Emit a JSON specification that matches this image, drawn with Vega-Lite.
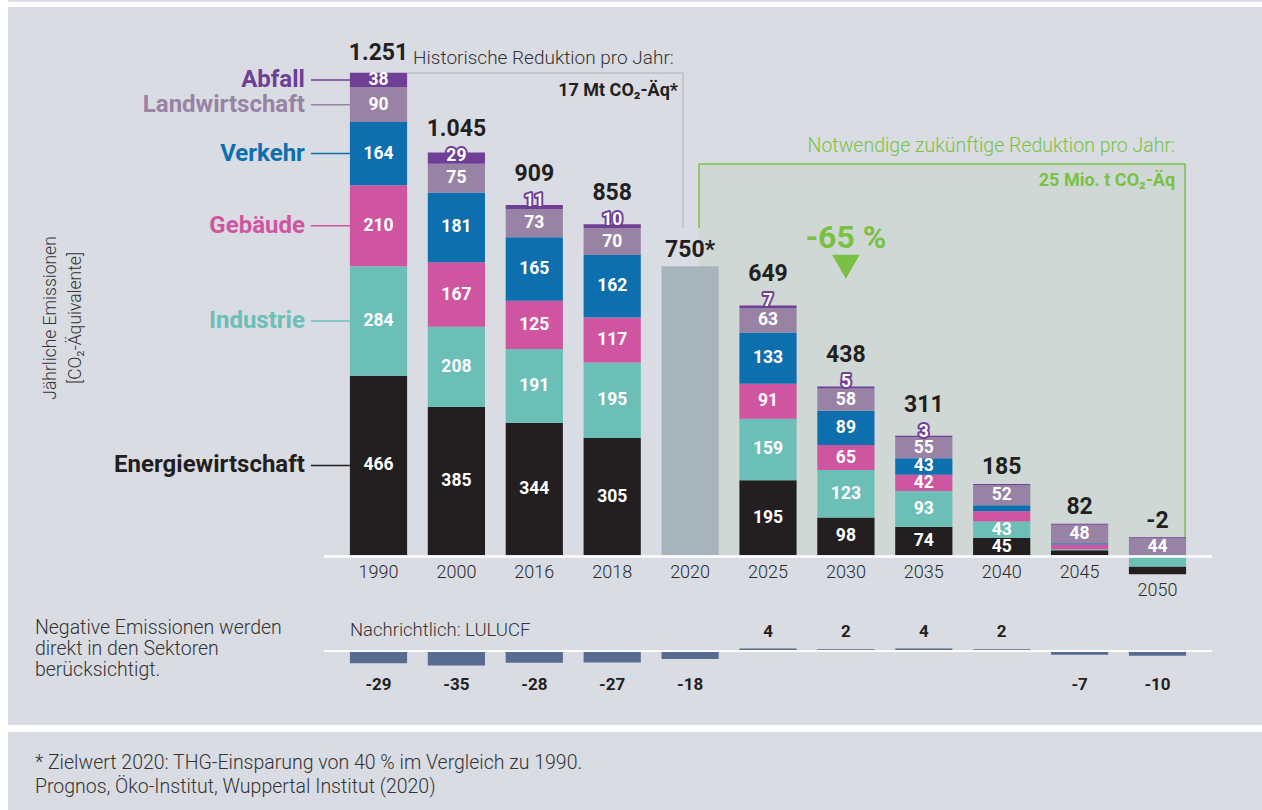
{
 "$schema": "https://vega.github.io/schema/vega-lite/v6.json",
 "width": 1254, "height": 810, "autosize": "none",
 "padding": {"left": 8, "top": 0, "right": 0, "bottom": 0},
 "background": "#ffffff",
 "config": {"view": {"fill": "#d9dce3", "stroke": null}, "font": "Roboto"},
 "datasets": {
  "emissions": [
   {"year": 1990, "sector": "Energiewirtschaft", "value": 466}, {"year": 1990, "sector": "Industrie", "value": 284}, {"year": 1990, "sector": "Gebäude", "value": 210}, {"year": 1990, "sector": "Verkehr", "value": 164}, {"year": 1990, "sector": "Landwirtschaft", "value": 90}, {"year": 1990, "sector": "Abfall", "value": 38},
   {"year": 2000, "sector": "Energiewirtschaft", "value": 385}, {"year": 2000, "sector": "Industrie", "value": 208}, {"year": 2000, "sector": "Gebäude", "value": 167}, {"year": 2000, "sector": "Verkehr", "value": 181}, {"year": 2000, "sector": "Landwirtschaft", "value": 75}, {"year": 2000, "sector": "Abfall", "value": 29},
   {"year": 2016, "sector": "Energiewirtschaft", "value": 344}, {"year": 2016, "sector": "Industrie", "value": 191}, {"year": 2016, "sector": "Gebäude", "value": 125}, {"year": 2016, "sector": "Verkehr", "value": 165}, {"year": 2016, "sector": "Landwirtschaft", "value": 73}, {"year": 2016, "sector": "Abfall", "value": 11},
   {"year": 2018, "sector": "Energiewirtschaft", "value": 305}, {"year": 2018, "sector": "Industrie", "value": 195}, {"year": 2018, "sector": "Gebäude", "value": 117}, {"year": 2018, "sector": "Verkehr", "value": 162}, {"year": 2018, "sector": "Landwirtschaft", "value": 70}, {"year": 2018, "sector": "Abfall", "value": 10},
   {"year": 2020, "sector": "Zielwert", "value": 750},
   {"year": 2025, "sector": "Energiewirtschaft", "value": 195}, {"year": 2025, "sector": "Industrie", "value": 159}, {"year": 2025, "sector": "Gebäude", "value": 91}, {"year": 2025, "sector": "Verkehr", "value": 133}, {"year": 2025, "sector": "Landwirtschaft", "value": 63}, {"year": 2025, "sector": "Abfall", "value": 7},
   {"year": 2030, "sector": "Energiewirtschaft", "value": 98}, {"year": 2030, "sector": "Industrie", "value": 123}, {"year": 2030, "sector": "Gebäude", "value": 65}, {"year": 2030, "sector": "Verkehr", "value": 89}, {"year": 2030, "sector": "Landwirtschaft", "value": 58}, {"year": 2030, "sector": "Abfall", "value": 5},
   {"year": 2035, "sector": "Energiewirtschaft", "value": 74}, {"year": 2035, "sector": "Industrie", "value": 93}, {"year": 2035, "sector": "Gebäude", "value": 42}, {"year": 2035, "sector": "Verkehr", "value": 43}, {"year": 2035, "sector": "Landwirtschaft", "value": 55}, {"year": 2035, "sector": "Abfall", "value": 3},
   {"year": 2040, "sector": "Energiewirtschaft", "value": 45}, {"year": 2040, "sector": "Industrie", "value": 43}, {"year": 2040, "sector": "Gebäude", "value": 26}, {"year": 2040, "sector": "Verkehr", "value": 16}, {"year": 2040, "sector": "Landwirtschaft", "value": 52}, {"year": 2040, "sector": "Abfall", "value": 3},
   {"year": 2045, "sector": "Energiewirtschaft", "value": 13}, {"year": 2045, "sector": "Industrie", "value": 3}, {"year": 2045, "sector": "Gebäude", "value": 12}, {"year": 2045, "sector": "Verkehr", "value": 3}, {"year": 2045, "sector": "Landwirtschaft", "value": 48}, {"year": 2045, "sector": "Abfall", "value": 3},
   {"year": 2050, "sector": "Energiewirtschaft", "value": -20}, {"year": 2050, "sector": "Industrie", "value": -29}, {"year": 2050, "sector": "Landwirtschaft", "value": 44}, {"year": 2050, "sector": "Abfall", "value": 3}
  ],
  "totals": [
   {"year": 1990, "total": 1251}, {"year": 2000, "total": 1045}, {"year": 2016, "total": 909}, {"year": 2018, "total": 858}, {"year": 2020, "total": 750}, {"year": 2025, "total": 649}, {"year": 2030, "total": 438}, {"year": 2035, "total": 311}, {"year": 2040, "total": 185}, {"year": 2045, "total": 82}, {"year": 2050, "total": -2}
  ],
  "lulucf": [
   {"year": 1990, "value": -29}, {"year": 2000, "value": -35}, {"year": 2016, "value": -28}, {"year": 2018, "value": -27}, {"year": 2020, "value": -18}, {"year": 2025, "value": 4}, {"year": 2030, "value": 2}, {"year": 2035, "value": 4}, {"year": 2040, "value": 2}, {"year": 2045, "value": -7}, {"year": 2050, "value": -10}
  ]
 },
 "layer": [
  {"data": {"values": [{}]}, "mark": {"type": "rect", "fill": "#cfd8d5"},
   "encoding": {"x": {"datum": 2020, "type": "ordinal", "bandPosition": 0.656, "scale": {"domain": [1990,2000,2016,2018,2020,2025,2030,2035,2040,2045,2050], "range": [316,1204], "paddingInner": 0.2657, "paddingOuter": 0.3325}, "axis": null},
    "x2": {"datum": 2050, "bandPosition": 1},
    "y": {"datum": 1015, "type": "quantitative", "scale": {"domain": [0,1000], "range": [555.3,169.8], "nice": false, "zero": false}, "axis": null},
    "y2": {"datum": 0}}},
  {"data": {"values": [{}]}, "mark": {"type": "rule", "stroke": "#ffffff", "strokeWidth": 5.3},
   "encoding": {"y": {"datum": 1429.2, "type": "quantitative", "axis": null}}},
  {"data": {"values": [{}]}, "mark": {"type": "rule", "stroke": "#b6c0c9", "strokeWidth": 1.5},
   "encoding": {"x": {"datum": 1990, "type": "ordinal", "bandPosition": 1, "axis": null},
    "x2": {"datum": 2020, "bandPosition": 0.376},
    "y": {"datum": 1251, "type": "quantitative", "axis": null}}},
  {"data": {"values": [{}]}, "mark": {"type": "rule", "stroke": "#b6c0c9", "strokeWidth": 1.5},
   "encoding": {"x": {"datum": 2020, "type": "ordinal", "bandPosition": 0.376, "axis": null},
    "y": {"datum": 1251, "type": "quantitative", "axis": null}, "y2": {"datum": 849}}},
  {"data": {"values": [{}]}, "mark": {"type": "rule", "stroke": "#7ac143", "strokeWidth": 1.5, "x2Offset": -1},
   "encoding": {"x": {"datum": 2020, "type": "ordinal", "bandPosition": 0.656, "axis": null},
    "x2": {"datum": 2050, "bandPosition": 1},
    "y": {"datum": 1015, "type": "quantitative", "axis": null}}},
  {"data": {"values": [{}]}, "mark": {"type": "rule", "stroke": "#7ac143", "strokeWidth": 1.5},
   "encoding": {"x": {"datum": 2020, "type": "ordinal", "bandPosition": 0.656, "axis": null},
    "y": {"datum": 1015, "type": "quantitative", "axis": null}, "y2": {"datum": 849}}},
  {"data": {"values": [{}]}, "mark": {"type": "rule", "stroke": "#7ac143", "strokeWidth": 1.5, "xOffset": -1},
   "encoding": {"x": {"datum": 2050, "type": "ordinal", "bandPosition": 1, "axis": null},
    "y": {"datum": 1015, "type": "quantitative", "axis": null}, "y2": {"datum": 0}}},
  {"data": {"name": "emissions"},
   "transform": [
    {"calculate": "indexof(['Energiewirtschaft','Industrie','Gebäude','Verkehr','Landwirtschaft','Abfall','Zielwert'], datum.sector)", "as": "idx"},
    {"calculate": "datum.value < 0 ? -datum.idx : datum.idx", "as": "ord"},
    {"stack": "value", "groupby": ["year"], "sort": [{"field": "ord", "order": "ascending"}], "as": ["v0", "v1"]},
    {"calculate": "(datum.v0 + datum.v1) / 2", "as": "mid"}
   ],
   "layer": [
    {"mark": {"type": "bar"},
     "encoding": {"x": {"field": "year", "type": "ordinal", "axis": null},
      "y": {"field": "v0", "type": "quantitative", "axis": null},
      "y2": {"field": "v1"},
      "color": {"field": "sector", "type": "nominal", "legend": null, "scale": {"domain": ["Energiewirtschaft","Industrie","Gebäude","Verkehr","Landwirtschaft","Abfall","Zielwert"], "range": ["#231f20","#6cbfb7","#d055a0","#0e6fae","#9883a5","#6e3f94","#a8b4bc"]}}}},
    {"transform": [{"filter": "datum.value > 30 && datum.sector != 'Zielwert'"}],
     "mark": {"type": "text", "color": "#ffffff", "fontWeight": "bold", "fontSize": 17.5, "baseline": "middle"},
     "encoding": {"x": {"field": "year", "type": "ordinal", "axis": null}, "y": {"field": "mid", "type": "quantitative", "axis": null}, "text": {"field": "value", "type": "quantitative"}}},
    {"transform": [{"filter": "datum.year == 1990"}],
     "mark": {"type": "text", "fontWeight": "bold", "fontSize": 24, "baseline": "middle", "align": "right", "dx": -45},
     "encoding": {"x": {"field": "year", "type": "ordinal", "bandPosition": 0, "axis": null}, "y": {"field": "mid", "type": "quantitative", "axis": null}, "text": {"field": "sector"}, "color": {"field": "sector", "type": "nominal", "legend": null}}},
    {"transform": [{"filter": "datum.year == 1990"}],
     "mark": {"type": "rule", "strokeWidth": 1.5, "xOffset": -39},
     "encoding": {"x": {"field": "year", "type": "ordinal", "bandPosition": 0, "axis": null}, "x2": {"field": "year", "bandPosition": 0}, "y": {"field": "mid", "type": "quantitative", "axis": null}, "color": {"field": "sector", "type": "nominal", "legend": null}}},
    {"transform": [{"filter": "datum.sector == 'Abfall' && datum.year >= 2016 && datum.year <= 2035"}],
     "mark": {"type": "text", "fill": "#6e3f94", "stroke": "#6e3f94", "strokeWidth": 4, "strokeJoin": "round", "fontWeight": "bold", "fontSize": 17.5, "baseline": "alphabetic", "dy": 1},
     "encoding": {"x": {"field": "year", "type": "ordinal", "axis": null}, "y": {"field": "v1", "type": "quantitative", "axis": null}, "text": {"field": "value", "type": "quantitative"}}},
    {"transform": [{"filter": "datum.sector == 'Abfall' && datum.year >= 2016 && datum.year <= 2035"}],
     "mark": {"type": "text", "fill": "#ffffff", "fontWeight": "bold", "fontSize": 17.5, "baseline": "alphabetic", "dy": 1},
     "encoding": {"x": {"field": "year", "type": "ordinal", "axis": null}, "y": {"field": "v1", "type": "quantitative", "axis": null}, "text": {"field": "value", "type": "quantitative"}}},
    {"transform": [{"filter": "datum.sector == 'Abfall' && datum.year == 2000"}],
     "mark": {"type": "text", "fill": "#6e3f94", "stroke": "#6e3f94", "strokeWidth": 4, "strokeJoin": "round", "fontWeight": "bold", "fontSize": 17.5, "baseline": "middle", "dy": -2},
     "encoding": {"x": {"field": "year", "type": "ordinal", "axis": null}, "y": {"field": "mid", "type": "quantitative", "axis": null}, "text": {"field": "value", "type": "quantitative"}}},
    {"transform": [{"filter": "datum.sector == 'Abfall' && datum.year == 2000"}],
     "mark": {"type": "text", "fill": "#ffffff", "fontWeight": "bold", "fontSize": 17.5, "baseline": "middle", "dy": -2},
     "encoding": {"x": {"field": "year", "type": "ordinal", "axis": null}, "y": {"field": "mid", "type": "quantitative", "axis": null}, "text": {"field": "value", "type": "quantitative"}}}
   ]},
  {"data": {"values": [{}]}, "mark": {"type": "rule", "stroke": "#ffffff", "strokeWidth": 2.4, "xOffset": -26, "x2Offset": 26, "yOffset": 1.2},
   "encoding": {"x": {"datum": 1990, "type": "ordinal", "bandPosition": 0, "axis": null}, "x2": {"datum": 2050, "bandPosition": 1},
    "y": {"datum": 0, "type": "quantitative", "axis": null}}},
  {"data": {"name": "emissions"},
   "transform": [
    {"filter": "datum.value > 0"},
    {"aggregate": [{"op": "sum", "field": "value", "as": "top"}], "groupby": ["year"]},
    {"lookup": "year", "from": {"data": {"name": "totals"}, "key": "year", "fields": ["total"]}},
    {"calculate": "(datum.total < 0 ? '-' : '') + replace(format(abs(datum.total), ','), ',', '.') + (datum.year == 2020 ? '*' : '')", "as": "label"}
   ],
   "layer": [
    {"transform": [{"filter": "datum.year == 1990"}],
     "mark": {"type": "text", "fontWeight": "bold", "fontSize": 23, "color": "#231f20", "baseline": "alphabetic", "dy": -12.5},
     "encoding": {"x": {"field": "year", "type": "ordinal", "axis": null}, "y": {"field": "top", "type": "quantitative", "axis": null}, "text": {"field": "label"}}},
    {"transform": [{"filter": "datum.year == 2020 || datum.year >= 2040"}],
     "mark": {"type": "text", "fontWeight": "bold", "fontSize": 23, "color": "#231f20", "baseline": "alphabetic", "dy": -9.5},
     "encoding": {"x": {"field": "year", "type": "ordinal", "axis": null}, "y": {"field": "top", "type": "quantitative", "axis": null}, "text": {"field": "label"}}},
    {"transform": [{"filter": "datum.year == 2000"}],
     "mark": {"type": "text", "fontWeight": "bold", "fontSize": 23, "color": "#231f20", "baseline": "alphabetic", "dy": -16.5},
     "encoding": {"x": {"field": "year", "type": "ordinal", "axis": null}, "y": {"field": "top", "type": "quantitative", "axis": null}, "text": {"field": "label"}}},
    {"transform": [{"filter": "datum.year >= 2016 && datum.year <= 2035 && datum.year != 2020"}],
     "mark": {"type": "text", "fontWeight": "bold", "fontSize": 23, "color": "#231f20", "baseline": "alphabetic", "dy": -24},
     "encoding": {"x": {"field": "year", "type": "ordinal", "axis": null}, "y": {"field": "top", "type": "quantitative", "axis": null}, "text": {"field": "label"}}}
   ]},
  {"data": {"name": "totals"},
   "layer": [
    {"transform": [{"filter": "datum.year != 2050"}],
     "mark": {"type": "text", "fontSize": 18, "fontWeight": 300, "color": "#2b2b2b", "baseline": "middle", "dy": 17.7},
     "encoding": {"x": {"field": "year", "type": "ordinal", "axis": null}, "y": {"datum": 0, "type": "quantitative", "axis": null}, "text": {"field": "year", "type": "nominal"}}},
    {"transform": [{"filter": "datum.year == 2050"}],
     "mark": {"type": "text", "fontSize": 18, "fontWeight": 300, "color": "#2b2b2b", "baseline": "middle", "dy": 36},
     "encoding": {"x": {"field": "year", "type": "ordinal", "axis": null}, "y": {"datum": 0, "type": "quantitative", "axis": null}, "text": {"field": "year", "type": "nominal"}}}
   ]},
  {"data": {"name": "lulucf"},
   "transform": [{"calculate": "'' + datum.value", "as": "label"}],
   "layer": [
    {"transform": [{"filter": "datum.value < 0"}],
     "mark": {"type": "bar", "color": "#586b90", "yOffset": 96.7, "y2Offset": 96.7},
     "encoding": {"x": {"field": "year", "type": "ordinal", "axis": null}, "y": {"field": "value", "type": "quantitative", "axis": null}, "y2": {"datum": 0}}},
    {"transform": [{"filter": "datum.value > 0"}],
     "mark": {"type": "bar", "color": "#586b90", "yOffset": 94.7, "y2Offset": 94.7},
     "encoding": {"x": {"field": "year", "type": "ordinal", "axis": null}, "y": {"field": "value", "type": "quantitative", "axis": null}, "y2": {"datum": 0}}},
    {"transform": [{"filter": "datum.value < 0"}],
     "mark": {"type": "text", "fontWeight": "bold", "fontSize": 17, "color": "#231f20", "baseline": "middle", "dy": 129.7},
     "encoding": {"x": {"field": "year", "type": "ordinal", "axis": null}, "y": {"datum": 0, "type": "quantitative", "axis": null}, "text": {"field": "label"}}},
    {"transform": [{"filter": "datum.value > 0"}],
     "mark": {"type": "text", "fontWeight": "bold", "fontSize": 17, "color": "#231f20", "baseline": "middle", "dy": 76.7},
     "encoding": {"x": {"field": "year", "type": "ordinal", "axis": null}, "y": {"datum": 0, "type": "quantitative", "axis": null}, "text": {"field": "label"}}}
   ]},
  {"data": {"values": [{}]}, "mark": {"type": "rule", "stroke": "#ffffff", "strokeWidth": 2, "xOffset": -26, "x2Offset": 26, "yOffset": 95.7},
   "encoding": {"x": {"datum": 1990, "type": "ordinal", "bandPosition": 0, "axis": null}, "x2": {"datum": 2050, "bandPosition": 1},
    "y": {"datum": 0, "type": "quantitative", "axis": null}}},
  {"data": {"values": [{}]}, "mark": {"type": "text", "text": ["Jährliche Emissionen", "[CO₂-Äquivalente]"], "angle": 270, "lineHeight": 25, "fontSize": 17.5, "fontWeight": 300, "color": "#333333", "align": "center", "baseline": "alphabetic", "dy": -294.4},
   "encoding": {"x": {"datum": 1990, "type": "ordinal", "bandPosition": 0, "axis": null}, "y": {"datum": 615.6, "type": "quantitative", "axis": null}}},
  {"data": {"values": [{}]}, "mark": {"type": "text", "text": "Historische Reduktion pro Jahr:", "fontSize": 19, "fontWeight": 300, "color": "#333333", "align": "left", "baseline": "middle", "dx": 6},
   "encoding": {"x": {"datum": 1990, "type": "ordinal", "bandPosition": 1, "axis": null}, "y": {"datum": 1290, "type": "quantitative", "axis": null}}},
  {"data": {"values": [{}]}, "mark": {"type": "text", "text": "17 Mt CO₂-Äq*", "fontSize": 18, "fontWeight": "bold", "color": "#231f20", "align": "right", "baseline": "middle", "dx": -5},
   "encoding": {"x": {"datum": 2020, "type": "ordinal", "bandPosition": 0.376, "axis": null}, "y": {"datum": 1204.4, "type": "quantitative", "axis": null}}},
  {"data": {"values": [{}]}, "mark": {"type": "text", "text": "Notwendige zukünftige Reduktion pro Jahr:", "fontSize": 19.5, "fontWeight": 300, "color": "#7ac143", "align": "right", "baseline": "middle", "dx": -11},
   "encoding": {"x": {"datum": 2050, "type": "ordinal", "bandPosition": 1, "axis": null}, "y": {"datum": 1061.4, "type": "quantitative", "axis": null}}},
  {"data": {"values": [{}]}, "mark": {"type": "text", "text": "25 Mio. t CO₂-Äq", "fontSize": 18, "fontWeight": "bold", "color": "#7ac143", "align": "right", "baseline": "middle", "dx": -11},
   "encoding": {"x": {"datum": 2050, "type": "ordinal", "bandPosition": 1, "axis": null}, "y": {"datum": 970.8, "type": "quantitative", "axis": null}}},
  {"data": {"values": [{}]}, "mark": {"type": "text", "text": "-65 %", "fontSize": 32, "fontWeight": "bold", "color": "#7ac143", "align": "center", "baseline": "middle"},
   "encoding": {"x": {"datum": 2030, "type": "ordinal", "bandPosition": 0.5, "axis": null}, "y": {"datum": 823.1, "type": "quantitative", "axis": null}}},
  {"data": {"values": [{}]}, "mark": {"type": "point", "shape": "triangle-down", "filled": true, "size": 760, "color": "#7ac143", "opacity": 1},
   "encoding": {"x": {"datum": 2030, "type": "ordinal", "bandPosition": 0.5, "axis": null}, "y": {"datum": 748.6, "type": "quantitative", "axis": null}}},
  {"data": {"values": [{}]}, "mark": {"type": "text", "text": ["Negative Emissionen werden", "direkt in den Sektoren", "berücksichtigt."], "lineHeight": 21, "fontSize": 19.5, "fontWeight": 300, "color": "#333333", "align": "left", "baseline": "alphabetic", "dx": -315},
   "encoding": {"x": {"datum": 1990, "type": "ordinal", "bandPosition": 0, "axis": null}, "y": {"datum": -203.1, "type": "quantitative", "axis": null}}},
  {"data": {"values": [{}]}, "mark": {"type": "text", "text": "Nachrichtlich: LULUCF", "fontSize": 18.5, "fontWeight": 300, "color": "#333333", "align": "left", "baseline": "middle"},
   "encoding": {"x": {"datum": 1990, "type": "ordinal", "bandPosition": 0, "axis": null}, "y": {"datum": -194, "type": "quantitative", "axis": null}}},
  {"data": {"values": [{}]}, "mark": {"type": "rule", "stroke": "#ffffff", "strokeWidth": 7},
   "encoding": {"y": {"datum": -449.3, "type": "quantitative", "axis": null}}},
  {"data": {"values": [{}]}, "mark": {"type": "text", "text": ["* Zielwert 2020: THG-Einsparung von 40 % im Vergleich zu 1990.", "Prognos, Öko-Institut, Wuppertal Institut (2020)"], "lineHeight": 24, "fontSize": 19.5, "fontWeight": 300, "color": "#333333", "align": "left", "baseline": "alphabetic", "dx": -315},
   "encoding": {"x": {"datum": 1990, "type": "ordinal", "bandPosition": 0, "axis": null}, "y": {"datum": -553.3, "type": "quantitative", "axis": null}}}
 ]
}
